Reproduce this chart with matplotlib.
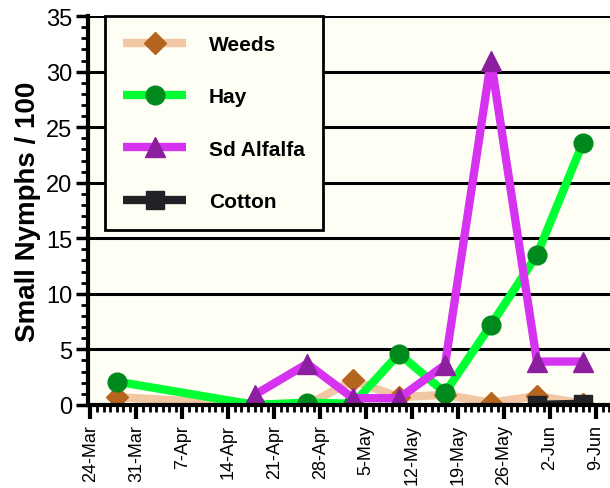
import numpy as np
import pandas as pd
import matplotlib
matplotlib.use("Agg")
import matplotlib.pyplot as plt
import matplotlib.dates as mdates
from matplotlib.ticker import FuncFormatter, MultipleLocator

# datos
fechas = ["2000-03-28", "2000-04-18", "2000-04-26", "2000-05-03", "2000-05-10",
          "2000-05-17", "2000-05-24", "2000-05-31", "2000-06-07"]
weeds = [0.7, 0.0, 0.0, 2.2, 0.7, 0.9, 0.2, 0.8, 0.1]
hay = [2.1, 0.0, 0.2, 0.1, 4.6, 1.1, 7.2, 13.5, 23.6]
alfalfa = [np.nan, 0.9, 3.7, 0.6, 0.6, 3.6, 31.0, 3.9, 3.9]
cotton = [np.nan, np.nan, np.nan, np.nan, np.nan, np.nan, np.nan, 0.0, 0.1]

x = pd.to_datetime(fechas)

plt.rcParams['font.family'] = ['Liberation Sans', 'DejaVu Sans']

fig = plt.figure(figsize=(6.1, 4.89), dpi=100)
ax = fig.add_axes([0.144, 0.170, 0.86, 0.795])
ax.set_facecolor("#FFFEF4")

series = [
    ("Weeds", weeds, "#F2C8A4", "#B5651D", "D", 11),
    ("Hay", hay, "#00FF33", "#008A1E", "o", 13.5),
    ("Sd Alfalfa", alfalfa, "#D633F0", "#8B1FA0", "^", 14),
    ("Cotton", cotton, "#202226", "#202226", "s", 13),
]
for nombre, y, col, mcol, mk, ms in series:
    ax.plot(x, y, color=col, lw=6, marker=mk, ms=ms, mfc=mcol, mec=mcol,
            label=nombre, solid_capstyle="butt")

# rejilla horizontal
ax.set_ylim(0, 35)
ax.yaxis.set_major_locator(MultipleLocator(5))
ax.yaxis.set_minor_locator(MultipleLocator(1))
ax.grid(axis="y", color="black", lw=2.2)
ax.set_axisbelow(True)

inicio = pd.Timestamp("2000-03-24")
ax.set_xlim(inicio - pd.Timedelta(days=0.4), pd.Timestamp("2000-06-11 12:00"))
semanas = pd.date_range("2000-03-24", "2000-06-09", freq="7D")
ax.set_xticks(mdates.date2num(semanas))
ax.xaxis.set_minor_locator(mdates.DayLocator())
ax.xaxis.set_major_formatter(FuncFormatter(
    lambda v, p: mdates.num2date(v).strftime("%d-%b").lstrip("0")))

for s in ["top", "right"]:
    ax.spines[s].set_visible(False)
for s in ["left", "bottom"]:
    ax.spines[s].set_linewidth(3)

ax.tick_params(axis="x", which="major", direction="out", length=10, width=3,
               labelsize=13, rotation=90, pad=4)
ax.tick_params(axis="x", which="minor", direction="out", length=5, width=2)
ax.tick_params(axis="y", which="major", direction="out", length=9, width=2.5,
               labelsize=17, pad=2)
ax.tick_params(axis="y", which="minor", direction="out", length=5, width=2)

ax.set_ylabel("Small Nymphs / 100", fontsize=20, fontweight="bold", labelpad=4)

leg = ax.legend(loc="upper left", bbox_to_anchor=(0.032, 1.0), borderaxespad=0,
                frameon=True, fancybox=False, edgecolor="black",
                facecolor="#FFFEF4", framealpha=1, handlelength=3.0,
                labelspacing=1.6, borderpad=0.9, handletextpad=1.1,
                prop={"weight": "bold", "size": 15})
leg.get_frame().set_linewidth(2)

fig.savefig("out.png", dpi=100)
